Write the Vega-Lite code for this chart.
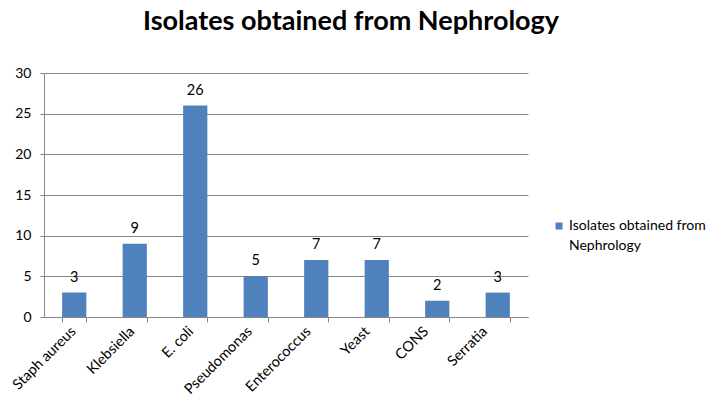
{
  "$schema": "https://vega.github.io/schema/vega-lite/v6.json",
  "autosize": {"type": "none"},
  "padding": {"left": 44, "top": 73, "right": 183, "bottom": 81},
  "width": 484,
  "height": 244,
  "background": "white",
  "title": {
    "text": "Isolates obtained from Nephrology",
    "font": "Lato",
    "fontSize": 27,
    "fontWeight": "bold",
    "color": "#000000",
    "anchor": "middle",
    "frame": "group",
    "dx": 65,
    "offset": 30
  },
  "data": {
    "values": [
      {"organism": "Staph aureus", "count": 3, "series": "Isolates obtained from Nephrology"},
      {"organism": "Klebsiella", "count": 9, "series": "Isolates obtained from Nephrology"},
      {"organism": "E. coli", "count": 26, "series": "Isolates obtained from Nephrology"},
      {"organism": "Pseudomonas", "count": 5, "series": "Isolates obtained from Nephrology"},
      {"organism": "Enterococcus", "count": 7, "series": "Isolates obtained from Nephrology"},
      {"organism": "Yeast", "count": 7, "series": "Isolates obtained from Nephrology"},
      {"organism": "CONS", "count": 2, "series": "Isolates obtained from Nephrology"},
      {"organism": "Serratia", "count": 3, "series": "Isolates obtained from Nephrology"}
    ]
  },
  "encoding": {
    "x": {
      "field": "organism",
      "type": "nominal",
      "sort": null,
      "scale": {"paddingInner": 0.6, "paddingOuter": 0.3},
      "axis": {
        "title": null,
        "labelAngle": -45,
        "labelAlign": "right",
        "labelBaseline": "middle",
        "labelFont": "Lato",
        "labelFontSize": 14.5,
        "labelColor": "#000000",
        "labelPadding": 7,
        "labelOffset": {"expr": "-1 - 12 * datum.index"},
        "tickBand": "extent",
        "tickSize": 5,
        "tickColor": "#868686",
        "domainColor": "#868686",
        "grid": false
      }
    },
    "y": {
      "field": "count",
      "type": "quantitative",
      "scale": {"domain": [0, 30], "nice": false},
      "axis": {
        "title": null,
        "values": [0, 5, 10, 15, 20, 25, 30],
        "labelFont": "Lato",
        "labelFontSize": 14,
        "labelColor": "#000000",
        "labelPadding": 9,
        "tickSize": 4,
        "tickColor": "#868686",
        "domainColor": "#868686",
        "gridColor": "#868686",
        "grid": true
      }
    }
  },
  "layer": [
    {
      "mark": {"type": "bar", "color": "#4F81BD"},
      "encoding": {
        "color": {
          "field": "series",
          "type": "nominal",
          "scale": {"range": ["#4F81BD"]},
          "legend": {
            "title": null,
            "orient": "none",
            "legendX": 508,
            "legendY": 146,
            "padding": 0,
            "symbolType": "square",
            "symbolSize": 49,
            "symbolStrokeWidth": 0,
            "labelFont": "Lato",
            "labelFontSize": 14,
            "labelColor": "#000000",
            "labelLimit": 300,
            "labelOffset": 3,
            "labelExpr": "['Isolates obtained from', 'Nephrology']",
            "encode": {
              "labels": {"update": {"lineHeight": {"value": 20}}}
            }
          }
        }
      }
    },
    {
      "mark": {
        "type": "text",
        "baseline": "bottom",
        "dy": -8,
        "font": "Lato",
        "fontSize": 14.5,
        "color": "#000000"
      },
      "encoding": {"text": {"field": "count", "type": "quantitative"}}
    }
  ],
  "config": {
    "view": {"stroke": null},
    "axis": {"gridWidth": 1, "domainWidth": 1}
  }
}
